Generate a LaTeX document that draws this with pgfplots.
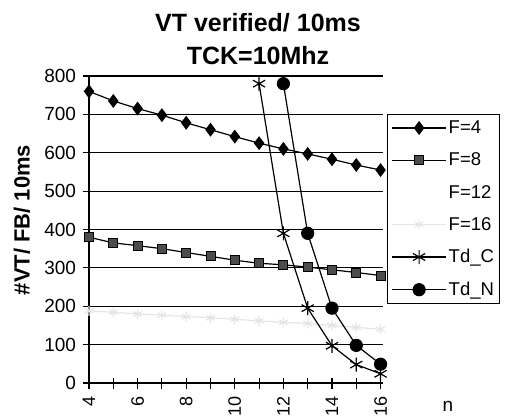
\documentclass[border=0pt]{standalone}
\usepackage{fontspec}
\setmainfont{Liberation Sans}
\usepackage{pgfplots}
\pgfplotsset{compat=1.18}
\begin{document}
\begin{tikzpicture}[x=1pt,y=1pt]
\useasboundingbox (-89,-34) rectangle (416,383);
\begin{axis}[at={(0,0)},anchor=south west,
  scale only axis,width=294pt,height=307pt,
  xmin=4,xmax=16.1,ymin=0,ymax=800,
  axis x line*=bottom,axis y line*=left,
  axis line style={line width=1.2pt,-},
  ymajorgrids,grid style={black,line width=1.1pt},
  ytick={0,100,...,800},
  xtick={4,...,16},
  xticklabels={4,,6,,8,,10,,12,,14,,16},
  tick align=center,major tick length=11pt,
  tick style={black,line width=1.1pt},
  /pgf/number format/assume math mode=true,
  tick label style={font=\fontsize{19}{21}\selectfont},
  xticklabel style={rotate=90,anchor=east,xshift=-4pt,font=\fontsize{18}{20}\selectfont},
  yticklabel style={xshift=-4pt},
  clip=false,
  legend style={at={(1.0136,0.875)},anchor=north west,draw=black,line width=1pt,
    font=\fontsize{18.5}{21}\selectfont,row sep=13.8pt,inner xsep=4pt,inner ysep=4pt},
  legend cell align=left,
  legend image code/.code={\draw[mark repeat=2,mark phase=2] plot coordinates {(0pt,0pt)(27pt,0pt)(54pt,0pt)};},
  every axis plot/.append style={line width=1.2pt},
]
\addplot[black,mark=diamond*,mark size=6pt] coordinates {
 (4,760)(5,735)(6,715)(7,698)(8,678)(9,660)(10,642)(11,625)(12,610)(13,597)(14,583)(15,568)(16,555)};
\addlegendentry{F=4}
\addplot[black,mark=square*,mark size=4.5pt,mark options={fill=black!70,line width=0.8pt}] coordinates {
 (4,380)(5,365)(6,358)(7,350)(8,340)(9,330)(10,320)(11,312)(12,308)(13,302)(14,295)(15,288)(16,280)};
\addlegendentry{F=8}
\addlegendimage{legend image code/.code={}}
\addlegendentry{F=12}
\addplot[black!10,mark=asterisk,mark size=5pt] coordinates {
 (4,188)(5,184)(6,180)(7,177)(8,173)(9,170)(10,166)(11,162)(12,158)(13,155)(14,150)(15,145)(16,140)};
\addlegendentry{F=16}
\addplot[black,mark=asterisk,mark size=7pt] coordinates {
 (11,780)(12,390)(13,195)(14,97)(15,48)(16,24)};
\addlegendentry{Td\_C}
\addplot[black,mark=*,mark size=6pt] coordinates {
 (12,780)(13,390)(14,195)(15,98)(16,49)};
\addlegendentry{Td\_N}
\end{axis}
\node[anchor=base,font=\bfseries\fontsize{25}{28}\selectfont] at (169,351) {VT verified/ 10ms};
\node[anchor=base,font=\bfseries\fontsize{25}{28}\selectfont] at (169,318) {TCK=10Mhz};
\node[rotate=90,font=\bfseries\fontsize{22}{25}\selectfont] at (-67,163) {\#VT/ FB/ 10ms};
\node[anchor=base,font=\fontsize{19}{21}\selectfont] at (359,-28) {n};
\end{tikzpicture}
\end{document}
